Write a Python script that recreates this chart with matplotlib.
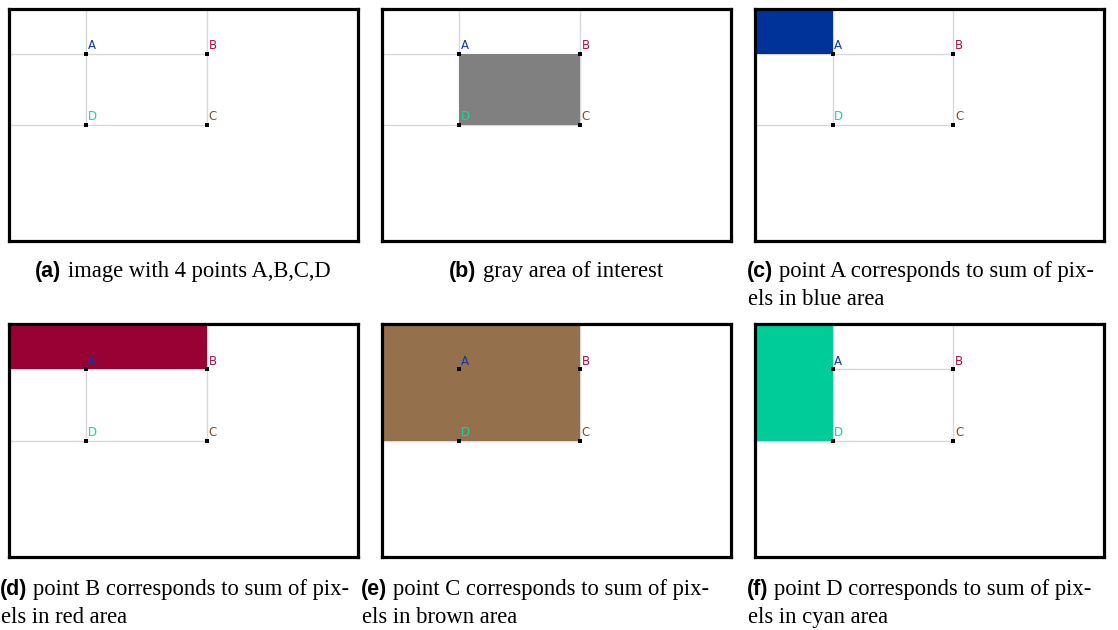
import matplotlib
matplotlib.use("Agg")
from matplotlib import pyplot as plt

# image size (pixels) and the four points
img_w, img_h = 350, 232
point_names = ["A", "B", "C", "D"]
point_x = [78, 199, 199, 78]
point_y = [45, 45, 116, 116]
point_colors = ["#0a3aa8", "#a8104a", "#80501c", "#10d8a0"]

# per panel: which area is filled (x0, y0, x1, y1) in image pixels, and its colour
panel_areas = [None, (78, 45, 199, 116), (0, 0, 78, 45),
               (0, 0, 199, 45), (0, 0, 199, 116), (0, 0, 78, 116)]
panel_fill = [None, "#808080", "#003399", "#990033", "#94704d", "#00cc99"]

panel_labels = ["(a)", "(b)", "(c)", "(d)", "(e)", "(f)"]
panel_captions = [
    ["image with 4 points A,B,C,D"],
    ["gray area of interest"],
    ["point A corresponds to sum of pix-", "els in blue area"],
    ["point B corresponds to sum of pix-", "els in red area"],
    ["point C corresponds to sum of pix-", "els in brown area"],
    ["point D corresponds to sum of pix-", "els in cyan area"],
]

W, H = 1118, 630
fig = plt.figure(figsize=(W / 100, H / 100), dpi=100)

col_left = [8.5, 381.5, 755]
row_top = [8.5, 324.5]
box_w, box_h = 349, 232

cap = fig.add_axes([0, 0, 1, 1])
cap.axis("off")
cap.set_xlim(0, W)
cap.set_ylim(H, 0)

caption_x = [None, None, 747, 0, 361, 747]
caption_base = [277, 595]

for i in range(6):
    r, c = divmod(i, 3)
    x0, y0 = col_left[c], row_top[r]
    ax = fig.add_axes([x0 / W, 1 - (y0 + box_h) / H, box_w / W, box_h / H])
    ax.set_xlim(0, img_w)
    ax.set_ylim(img_h, 0)
    ax.set_xticks([])
    ax.set_yticks([])
    for s in ax.spines.values():
        s.set_linewidth(2.3)
        s.set_color("black")
        s.set_zorder(10)

    # guide lines from the image edges to the points
    gl = dict(color="#d8d8d8", lw=1.0, zorder=1)
    ax.plot([0, point_x[1]], [point_y[0], point_y[1]], **gl)
    ax.plot([0, point_x[2]], [point_y[3], point_y[2]], **gl)
    ax.plot([point_x[0], point_x[3]], [0, point_y[3]], **gl)
    ax.plot([point_x[1], point_x[2]], [0, point_y[2]], **gl)

    if panel_areas[i] is not None:
        ax0, ay0, ax1, ay1 = panel_areas[i]
        ax.fill([ax0, ax1, ax1, ax0], [ay0, ay0, ay1, ay1],
                color=panel_fill[i], lw=0, zorder=2)

    ax.scatter(point_x, point_y, s=6, marker="s", color="black", lw=0, zorder=4)
    for name, px, py, pc in zip(point_names, point_x, point_y, point_colors):
        ax.text(px + 1.5, py - 1.5, name, color=pc, fontsize=8.5,
                family="DejaVu Sans", ha="left", va="bottom", zorder=5)

    # caption
    base = caption_base[r]
    lab_font = dict(family="Liberation Sans", weight="bold", fontsize=15.5)
    txt_font = dict(family="Liberation Serif", fontsize=16.3)
    lines = panel_captions[i]
    if caption_x[i] is None:
        # centred single line: measure and centre under the box
        lab = cap.text(0, base, panel_labels[i], va="baseline", ha="left", **lab_font)
        txt = cap.annotate(lines[0], xy=(1, base), xycoords=(lab, "data"),
                           xytext=(5, 0), textcoords="offset points",
                           va="baseline", ha="left", **txt_font)
        fig.canvas.draw()
        r_end = txt.get_window_extent().x1
        total = r_end - lab.get_window_extent().x0
        centre = x0 + box_w / 2
        lab.set_x(centre - total / 2)
    else:
        lab = cap.text(caption_x[i], base, panel_labels[i], va="baseline", ha="left", **lab_font)
        cap.annotate(lines[0], xy=(1, base), xycoords=(lab, "data"),
                     xytext=(4, 0), textcoords="offset points",
                     va="baseline", ha="left", **txt_font)
        for k, line in enumerate(lines[1:], start=1):
            cap.text(caption_x[i] + 1, base + 28 * k, line, va="baseline", ha="left", **txt_font)

fig.savefig("out.png", dpi=100)
